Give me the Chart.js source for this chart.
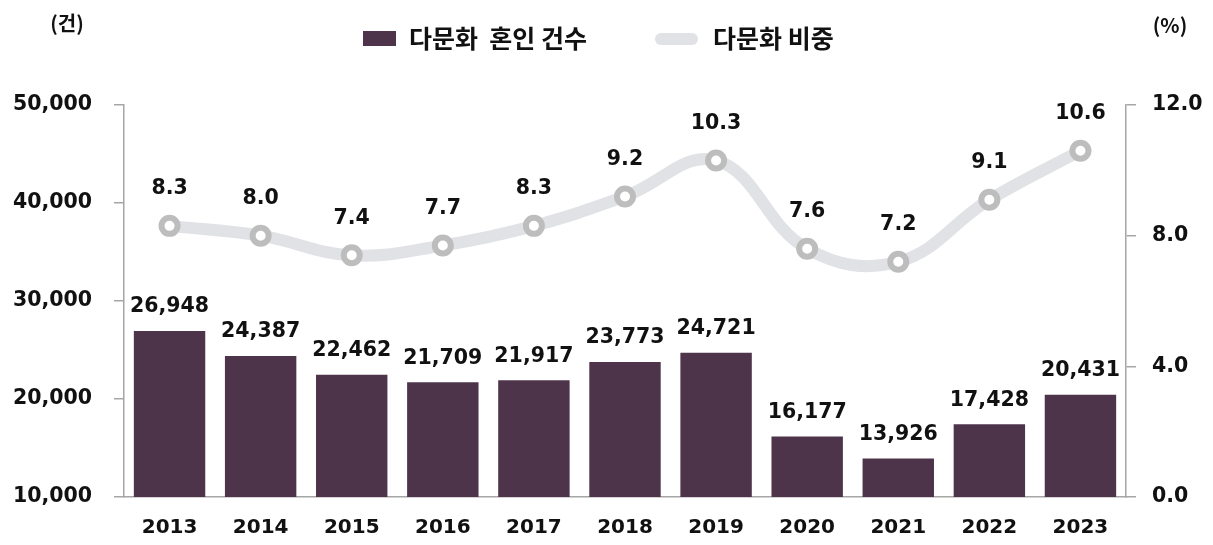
<!DOCTYPE html>
<html>
<head>
<meta charset="utf-8">
<script src="https://cdn.jsdelivr.net/npm/chart.js@4"></script>
<style>
  html, body { margin: 0; padding: 0; background: #fff; }
  #wrap { width: 1213px; height: 545px; position: relative; }
</style>
</head>
<body>
<div id="wrap"><canvas id="marriageChart"></canvas></div>
<script>
// 다문화 혼인 건수 / 비중 (2013-2023)
const years = ['2013', '2014', '2015', '2016', '2017', '2018', '2019', '2020', '2021', '2022', '2023'];
const marriageCounts = [26948, 24387, 22462, 21709, 21917, 23773, 24721, 16177, 13926, 17428, 20431];
const marriageShare = [8.3, 8.0, 7.4, 7.7, 8.3, 9.2, 10.3, 7.6, 7.2, 9.1, 10.6];
const leftTicks = [10000, 20000, 30000, 40000, 50000];
const rightTicks = [0, 4, 8, 12];

const NUM_FONT = '"DejaVu Sans", sans-serif';
const KR_FONT = '"Noto Sans CJK KR", sans-serif';
const BAR_COLOR = '#4e344a';
const LINE_COLOR = '#e1e2e6';
const AXIS_COLOR = '#a6a6a6';

// value labels + legend + unit titles
const labelPlugin = {
    id: 'labelPlugin',
    afterDatasetsDraw(chart) {
        const ctx = chart.ctx;
        ctx.save();
        ctx.fillStyle = '#111';
        ctx.textAlign = 'center';
        ctx.textBaseline = 'middle';
        ctx.font = 'bold 20.5px ' + NUM_FONT;

        const barMeta = chart.getDatasetMeta(1);
        barMeta.data.forEach(function(bar, i) {
            ctx.fillText(marriageCounts[i].toLocaleString('en-US'), bar.x, bar.y - 24);
        });

        const lineMeta = chart.getDatasetMeta(0);
        lineMeta.data.forEach(function(pt, i) {
            ctx.fillText(marriageShare[i].toFixed(1), pt.x, pt.y - 37);
        });

        // unit titles
        ctx.font = 'bold 20px ' + KR_FONT;
        ctx.fillText('(건)', 67, 23);
        ctx.fillText('(%)', 1170, 25);

        // legend
        ctx.fillStyle = BAR_COLOR;
        ctx.fillRect(363, 31, 33, 15);
        ctx.fillStyle = LINE_COLOR;
        ctx.beginPath();
        ctx.roundRect(655, 33, 43, 12, 6);
        ctx.fill();

        ctx.fillStyle = '#111';
        ctx.textAlign = 'left';
        ctx.font = 'bold 25px ' + KR_FONT;
        ctx.fillText('다문화  혼인 건수', 409, 38);
        ctx.fillText('다문화 비중', 713, 38);
        ctx.restore();
    }
};

new Chart(document.getElementById('marriageChart'), {
    type: 'bar',
    data: {
        labels: years,
        datasets: [{
            type: 'line',
            label: '다문화 비중',
            data: marriageShare,
            yAxisID: 'yRight',
            borderColor: LINE_COLOR,
            borderWidth: 12,
            tension: 0.4,
            pointRadius: 8,
            pointBorderWidth: 6,
            pointBackgroundColor: '#fff',
            pointBorderColor: '#bdbdbd',
            order: 0
        }, {
            label: '다문화 혼인 건수',
            data: marriageCounts,
            yAxisID: 'y',
            backgroundColor: BAR_COLOR,
            categoryPercentage: 0.8,
            barPercentage: 0.98,
            order: 1
        }]
    },
    options: {
        responsive: true,
        maintainAspectRatio: false,
        animation: false,
        layout: { padding: { top: 105, left: 0, right: 0, bottom: 0 } },
        plugins: {
            legend: { display: false },
            tooltip: { enabled: false }
        },
        scales: {
            x: {
                grid: { display: false },
                border: { display: true, color: AXIS_COLOR, width: 1.5 },
                ticks: {
                    color: '#111',
                    font: { family: NUM_FONT, size: 20, weight: 'bold' },
                    padding: 11
                },
                afterFit(scale) { scale.height = 48; }
            },
            y: {
                position: 'left',
                min: 10000,
                max: 50000,
                afterBuildTicks(scale) { scale.ticks = leftTicks.map(v => ({ value: v })); },
                grid: { drawOnChartArea: false, drawTicks: true, tickLength: 10, color: AXIS_COLOR, lineWidth: 1.5 },
                border: { display: true, color: AXIS_COLOR, width: 1.5 },
                ticks: {
                    color: '#111',
                    font: { family: NUM_FONT, size: 20.5, weight: 'bold' },
                    padding: 22,
                    callback: v => v.toLocaleString('en-US')
                },
                afterFit(scale) { scale.width = 124; }
            },
            yRight: {
                position: 'right',
                min: 0,
                max: 12,
                afterBuildTicks(scale) { scale.ticks = rightTicks.map(v => ({ value: v })); },
                grid: { drawOnChartArea: false, drawTicks: true, tickLength: 10, color: AXIS_COLOR, lineWidth: 1.5 },
                border: { display: true, color: AXIS_COLOR, width: 1.5 },
                ticks: {
                    color: '#111',
                    font: { family: NUM_FONT, size: 20.5, weight: 'bold' },
                    padding: 16,
                    callback: v => Number(v).toFixed(1)
                },
                afterFit(scale) { scale.width = 87; }
            }
        }
    },
    plugins: [labelPlugin]
});
</script>
</body>
</html>
